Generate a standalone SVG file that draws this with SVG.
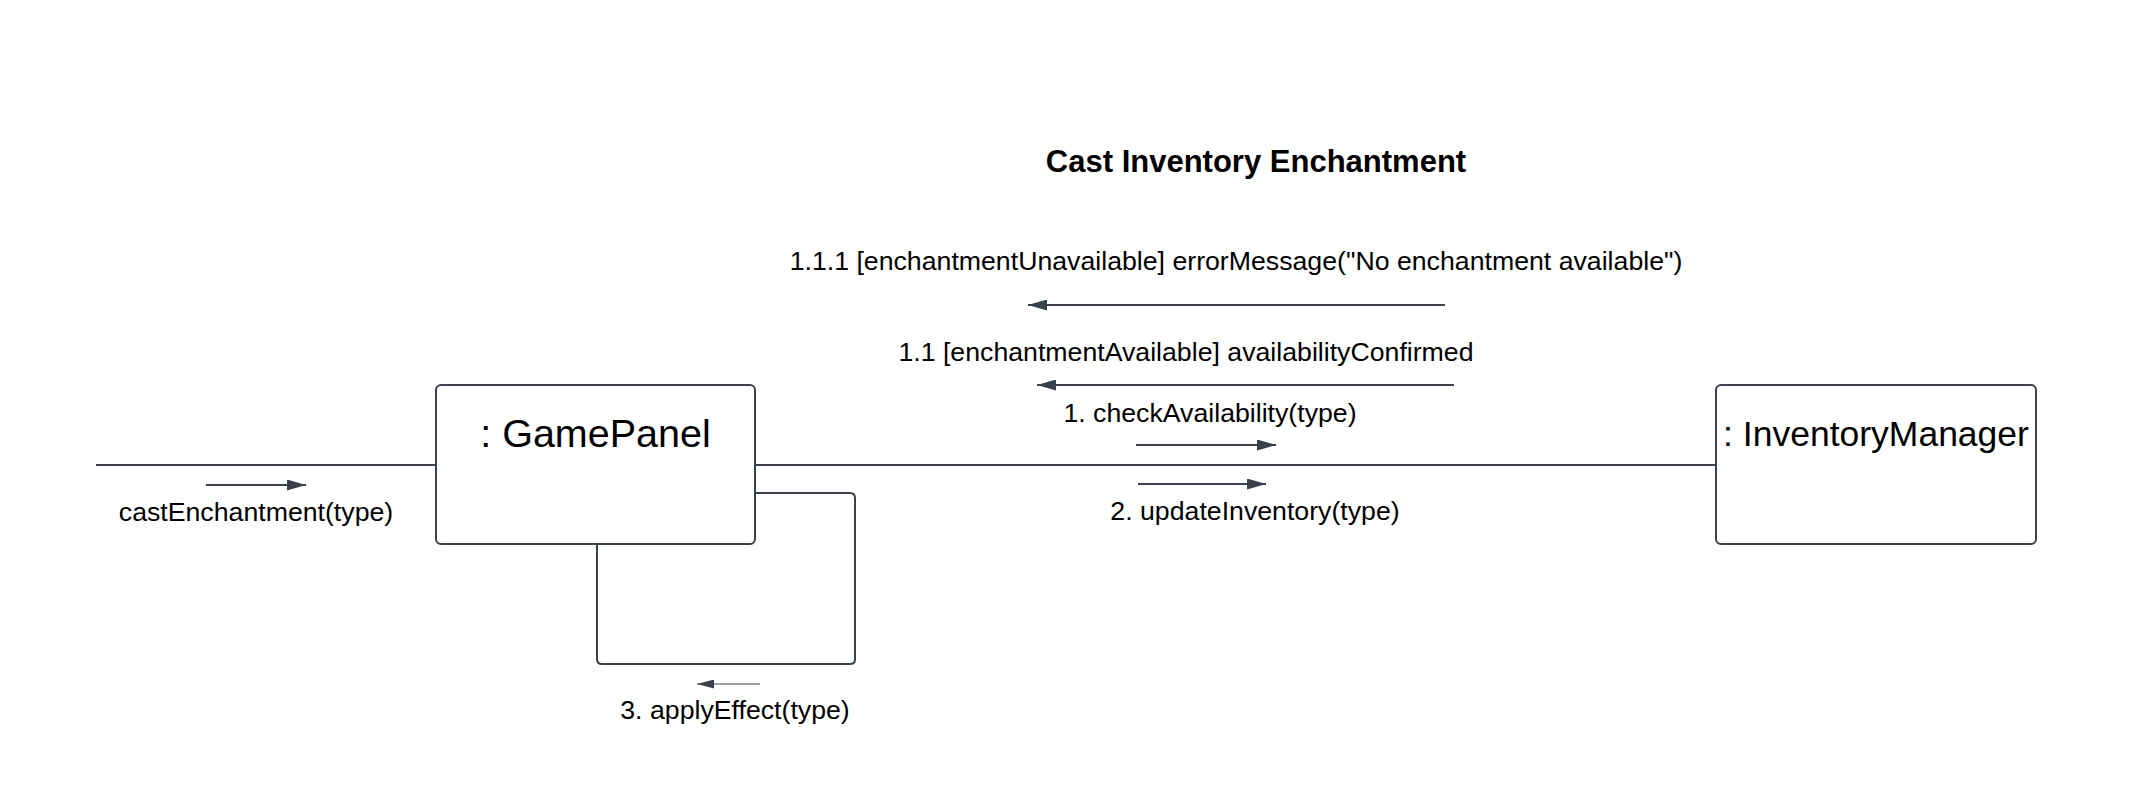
<svg xmlns="http://www.w3.org/2000/svg" width="2146" height="805" viewBox="0 0 2146 805">
<style>
.bg{fill:#ffffff}
.node{fill:#ffffff;stroke:#3a414a;stroke-width:2}
.link{fill:none;stroke:#3a414a;stroke-width:2}
.msg{fill:none;stroke:#3a414a;stroke-width:2}
.msgthin{fill:none;stroke:#3a414a;stroke-width:1.2}
.t{font-family:"Liberation Sans",Arial,sans-serif;fill:#000000;text-anchor:middle}
.lbl{font-size:26.7px}
.title{font-size:31px;font-weight:bold}
</style>
<defs>
<marker id="ah" viewBox="0 0 19 11" refX="19" refY="5.5" markerWidth="19" markerHeight="11" orient="auto" markerUnits="userSpaceOnUse">
<path d="M0,0 L19,5.5 L0,11 z" fill="#3a414a"/>
</marker>
<marker id="ahs" viewBox="0 0 17 9" refX="17" refY="4.5" markerWidth="17" markerHeight="9" orient="auto" markerUnits="userSpaceOnUse">
<path d="M0,0 L17,4.5 L0,9 z" fill="#3a414a"/>
</marker>
</defs>
<rect class="bg" x="0" y="0" width="2146" height="805"/>
<text class="t title" x="1256" y="172">Cast Inventory Enchantment</text>
<g id="connectors">
<line class="link" x1="96" y1="465" x2="436" y2="465"/>
<line class="link" x1="755" y1="465" x2="1716" y2="465"/>
<path class="link" d="M755,493 H850 Q855,493 855,498 V659 Q855,664 850,664 H602 Q597,664 597,659 V544"/>
<line class="msg" x1="206" y1="485" x2="306" y2="485" marker-end="url(#ah)"/>
<text class="t lbl" x="256" y="521">castEnchantment(type)</text>
<line class="msgthin" x1="760" y1="684" x2="697" y2="684" marker-end="url(#ahs)"/>
<text class="t lbl" x="735" y="719">3. applyEffect(type)</text>
<line class="msg" x1="1136" y1="445" x2="1276" y2="445" marker-end="url(#ah)"/>
<text class="t lbl" x="1210" y="422">1. checkAvailability(type)</text>
<line class="msg" x1="1138" y1="484" x2="1266" y2="484" marker-end="url(#ah)"/>
<text class="t lbl" x="1255" y="520">2. updateInventory(type)</text>
<line class="msg" x1="1454" y1="385" x2="1037" y2="385" marker-end="url(#ah)"/>
<text class="t lbl" x="1186" y="361">1.1 [enchantmentAvailable] availabilityConfirmed</text>
<line class="msg" x1="1445" y1="305" x2="1028" y2="305" marker-end="url(#ah)"/>
<text class="t lbl" x="1236" y="270">1.1.1 [enchantmentUnavailable] errorMessage("No enchantment available")</text>
</g>
<g id="gamepanel">
<rect class="node" x="436" y="385" width="319" height="159" rx="5"/>
<text class="t" x="595.5" y="447" font-size="39.5">: GamePanel</text>
</g>
<g id="inventorymanager">
<rect class="node" x="1716" y="385" width="320" height="159" rx="5"/>
<text class="t" x="1876" y="446" font-size="35.5">: InventoryManager</text>
</g>
</svg>
